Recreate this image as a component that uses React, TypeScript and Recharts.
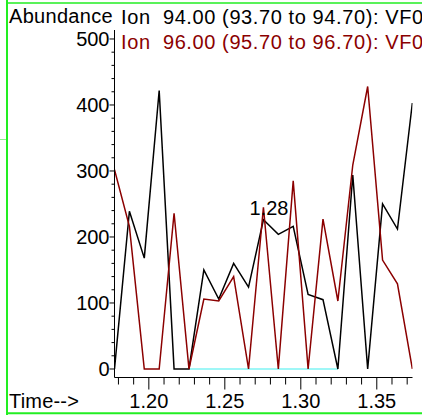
import { LineChart, Line, XAxis, YAxis } from 'recharts';

const TIMES = [
  1.1774, 1.1872, 1.197, 1.2068, 1.2166, 1.2264, 1.2362, 1.246, 1.2558, 1.2656, 1.2754,
  1.2852, 1.295, 1.3048, 1.3146, 1.3244, 1.3342, 1.344, 1.3538, 1.3636, 1.3734,
];
const ION_94 = [0, 239, 168, 422, 0, 0, 150, 106, 160, 124, 226, 204, 216, 113, 105, 0, 294, 0, 250, 212, 403];
const ION_96 = [302, 216, 0, 0, 236, 0, 106, 103, 140, 0, 245, 0, 285, 0, 227, 103, 309, 428, 165, 129, 0];
// flat baseline drawn under the traces
const BASELINE = [null, null, null, null, null, 0, 0, 0, 0, 0, 0, 0, 0, 0, 0, 0, null, null, null, null, null];

const SERIES_NAMES = ['Ion  94.00 (93.70 to 94.70): VF0', 'Ion  96.00 (95.70 to 96.70): VF0'];
const SERIES_COLORS = ['#000000', '#8b0000'];

const Y_LABELS = [0, 100, 200, 300, 400, 500];
const X_LABELS = [1.2, 1.25, 1.3, 1.35];
const PEAK_INDEX = 10;

const FONT = '"Liberation Sans", Arial, sans-serif';

const chartData = TIMES.map((t, i) => ({
  time: t,
  ion94: ION_94[i],
  ion96: ION_96[i],
  base: BASELINE[i],
}));

// minor ticks every 20 on y, every 0.01 on x
const yTicks: number[] = [];
for (let v = 0; v <= 500; v += 20) yTicks.push(v);
const xTicks: number[] = [];
for (let k = 118; k <= 137; k++) xTicks.push(k / 100);

const YTick = (props: any) => {
  const { x, y, payload } = props;
  const major = Y_LABELS.includes(payload.value);
  return (
    <g>
      <line x1={x} x2={x - (major ? 5 : 3)} y1={y} y2={y} stroke="#000" />
      {major && (
        <text x={x - 5} y={y + 7} textAnchor="end" fontSize={20} fontFamily={FONT} fill="#000">
          {payload.value}
        </text>
      )}
    </g>
  );
};

const XTick = (props: any) => {
  const { x, y, payload } = props;
  const major = X_LABELS.some((v) => Math.abs(v - payload.value) < 1e-6);
  return (
    <g>
      <line x1={x} x2={x} y1={y} y2={y + (major ? 12 : 7)} stroke="#000" />
      {major && (
        <text x={x} y={y + 30.5} textAnchor="middle" fontSize={20} fontFamily={FONT} fill="#000">
          {payload.value.toFixed(2)}
        </text>
      )}
    </g>
  );
};

const peakLabel = (props: any) => {
  const { x, y, index } = props;
  if (index !== PEAK_INDEX) return null;
  return (
    <text x={x + 5.5} y={y - 5} textAnchor="middle" fontSize={20} fontFamily={FONT} fill="#000">
      {TIMES[PEAK_INDEX].toFixed(2)}
    </text>
  );
};

export default function App() {
  return (
    <div style={{ position: 'absolute', left: 0, top: 0, width: 422, height: 415, background: '#fff', overflow: 'hidden' }}>
      <LineChart
        width={422}
        height={415}
        data={chartData}
        margin={{ top: 30, right: 9.5, left: 0, bottom: 0 }}
      >
        <XAxis
          dataKey="time"
          type="number"
          domain={[1.1774, 1.3735]}
          allowDataOverflow
          ticks={xTicks}
          interval={0}
          height={37.5}
          tickSize={0}
          tickMargin={0}
          tickLine={false}
          axisLine={{ stroke: '#000' }}
          tick={<XTick />}
        />
        <YAxis
          type="number"
          domain={[-12.9, 513.6]}
          allowDataOverflow
          ticks={yTicks}
          interval={0}
          width={114.5}
          tickSize={0}
          tickMargin={0}
          tickLine={false}
          axisLine={{ stroke: '#000' }}
          tick={<YTick />}
        />
        <Line dataKey="base" stroke="#7ff5f5" strokeWidth={1.4} dot={false} isAnimationActive={false} connectNulls={false} />
        <Line
          dataKey="ion94"
          name={SERIES_NAMES[0]}
          stroke={SERIES_COLORS[0]}
          strokeWidth={1.5}
          dot={false}
          isAnimationActive={false}
          type="linear"
          label={peakLabel}
        />
        <Line
          dataKey="ion96"
          name={SERIES_NAMES[1]}
          stroke={SERIES_COLORS[1]}
          strokeWidth={1.5}
          dot={false}
          isAnimationActive={false}
          type="linear"
        />
      </LineChart>
      <svg width={422} height={415} style={{ position: 'absolute', left: 0, top: 0, pointerEvents: 'none' }}>
        <line x1={7} x2={7} y1={0} y2={415} stroke="#22ee22" strokeWidth={2} />
        <line x1={7} x2={422} y1={3} y2={3} stroke="#22ee22" strokeWidth={1.6} />
        <line x1={7} x2={422} y1={413.3} y2={413.3} stroke="#22ee22" strokeWidth={2} />
        <line x1={0} x2={6} y1={139.5} y2={139.5} stroke="#8ef08e" strokeWidth={1} />
        <text x={9} y={23} fontSize={20} fontFamily={FONT} fill="#000" letterSpacing={0.3}>Abundance</text>
        {SERIES_NAMES.map((n, i) => (
          <text
            key={n}
            x={121}
            y={24 + i * 25}
            fontSize={20}
            fontFamily={FONT}
            fill={SERIES_COLORS[i]}
            letterSpacing={0.6}
            style={{ whiteSpace: 'pre' }}
          >
            {n}
          </text>
        ))}
        <text x={9} y={408} fontSize={20} fontFamily={FONT} fill="#000" letterSpacing={0.2}>Time--&gt;</text>
      </svg>
    </div>
  );
}
